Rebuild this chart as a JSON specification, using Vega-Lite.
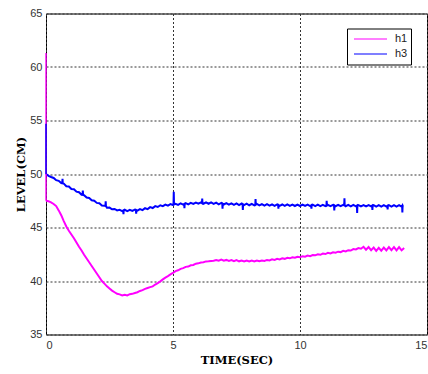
{
  "$schema": "https://vega.github.io/schema/vega-lite/v6.json",
  "width": 381,
  "height": 321,
  "autosize": {"type": "none"},
  "padding": {"left": 46, "top": 13.5, "right": 1, "bottom": 39.5},
  "background": "white",
  "config": {
    "view": {"stroke": "black", "strokeWidth": 1, "fill": "white"},
    "axis": {
      "grid": true,
      "gridColor": "#333",
      "gridDash": [2, 2],
      "gridOpacity": 1,
      "gridWidth": 1,
      "domain": false,
      "ticks": false,
      "labelFont": "Liberation Sans",
      "labelFontSize": 11,
      "labelColor": "#333",
      "titleFont": "DejaVu Serif",
      "titleFontWeight": "bold",
      "titleFontSize": 11.5,
      "titleColor": "black"
    }
  },
  "datasets": {
    "levels": [
      {"s":"h1","x":0,"y":47.5},{"s":"h1","x":0.1,"y":47.45},{"s":"h1","x":0.2,"y":47.35},{"s":"h1","x":0.3,"y":47.2},{"s":"h1","x":0.4,"y":47.0},{"s":"h1","x":0.5,"y":46.6},{"s":"h1","x":0.6,"y":46.15},{"s":"h1","x":0.7,"y":45.6},{"s":"h1","x":0.8,"y":45.1},{"s":"h1","x":0.9,"y":44.7},
      {"s":"h1","x":1.0,"y":44.35},{"s":"h1","x":1.1,"y":44.0},{"s":"h1","x":1.2,"y":43.6},{"s":"h1","x":1.3,"y":43.2},{"s":"h1","x":1.4,"y":42.85},{"s":"h1","x":1.5,"y":42.45},{"s":"h1","x":1.6,"y":42.1},{"s":"h1","x":1.7,"y":41.75},{"s":"h1","x":1.8,"y":41.4},{"s":"h1","x":1.9,"y":41.05},
      {"s":"h1","x":2.0,"y":40.7},{"s":"h1","x":2.1,"y":40.35},{"s":"h1","x":2.2,"y":40.0},{"s":"h1","x":2.3,"y":39.75},{"s":"h1","x":2.4,"y":39.5},{"s":"h1","x":2.5,"y":39.3},{"s":"h1","x":2.6,"y":39.1},{"s":"h1","x":2.7,"y":38.95},{"s":"h1","x":2.8,"y":38.8},{"s":"h1","x":2.9,"y":38.75},
      {"s":"h1","x":3.0,"y":38.65},{"s":"h1","x":3.1,"y":38.72},{"s":"h1","x":3.2,"y":38.65},{"s":"h1","x":3.3,"y":38.77},{"s":"h1","x":3.4,"y":38.8},{"s":"h1","x":3.5,"y":38.88},{"s":"h1","x":3.6,"y":38.95},{"s":"h1","x":3.7,"y":39.07},{"s":"h1","x":3.8,"y":39.15},{"s":"h1","x":3.9,"y":39.27},
      {"s":"h1","x":4.0,"y":39.35},{"s":"h1","x":4.1,"y":39.43},{"s":"h1","x":4.2,"y":39.5},{"s":"h1","x":4.3,"y":39.67},{"s":"h1","x":4.4,"y":39.8},{"s":"h1","x":4.5,"y":39.97},{"s":"h1","x":4.6,"y":40.15},{"s":"h1","x":4.7,"y":40.32},{"s":"h1","x":4.8,"y":40.45},{"s":"h1","x":4.9,"y":40.62},
      {"s":"h1","x":5.0,"y":40.75},{"s":"h1","x":5.1,"y":40.92},{"s":"h1","x":5.2,"y":41.0},{"s":"h1","x":5.3,"y":41.13},{"s":"h1","x":5.4,"y":41.2},{"s":"h1","x":5.5,"y":41.32},{"s":"h1","x":5.6,"y":41.35},{"s":"h1","x":5.7,"y":41.47},{"s":"h1","x":5.8,"y":41.5},{"s":"h1","x":5.9,"y":41.62},
      {"s":"h1","x":6.0,"y":41.65},{"s":"h1","x":6.1,"y":41.73},{"s":"h1","x":6.2,"y":41.75},{"s":"h1","x":6.3,"y":41.83},{"s":"h1","x":6.4,"y":41.85},{"s":"h1","x":6.5,"y":41.88},{"s":"h1","x":6.6,"y":41.9},{"s":"h1","x":6.7,"y":41.97},{"s":"h1","x":6.8,"y":41.9},{"s":"h1","x":6.9,"y":42.0},
      {"s":"h1","x":7.0,"y":41.9},{"s":"h1","x":7.1,"y":41.97},{"s":"h1","x":7.2,"y":41.88},{"s":"h1","x":7.3,"y":41.96},{"s":"h1","x":7.4,"y":41.85},{"s":"h1","x":7.5,"y":41.95},{"s":"h1","x":7.6,"y":41.84},{"s":"h1","x":7.7,"y":41.92},{"s":"h1","x":7.8,"y":41.83},{"s":"h1","x":7.9,"y":41.92},
      {"s":"h1","x":8.0,"y":41.83},{"s":"h1","x":8.1,"y":41.92},{"s":"h1","x":8.2,"y":41.83},{"s":"h1","x":8.3,"y":41.92},{"s":"h1","x":8.4,"y":41.84},{"s":"h1","x":8.5,"y":41.92},{"s":"h1","x":8.6,"y":41.87},{"s":"h1","x":8.7,"y":41.97},{"s":"h1","x":8.8,"y":41.92},{"s":"h1","x":8.9,"y":42.02},
      {"s":"h1","x":9.0,"y":41.97},{"s":"h1","x":9.1,"y":42.07},{"s":"h1","x":9.2,"y":42.02},{"s":"h1","x":9.3,"y":42.12},{"s":"h1","x":9.4,"y":42.07},{"s":"h1","x":9.5,"y":42.17},{"s":"h1","x":9.6,"y":42.12},{"s":"h1","x":9.7,"y":42.22},{"s":"h1","x":9.8,"y":42.17},{"s":"h1","x":9.9,"y":42.27},
      {"s":"h1","x":10.0,"y":42.22},{"s":"h1","x":10.1,"y":42.32},{"s":"h1","x":10.2,"y":42.27},{"s":"h1","x":10.3,"y":42.37},{"s":"h1","x":10.4,"y":42.32},{"s":"h1","x":10.5,"y":42.43},{"s":"h1","x":10.6,"y":42.4},{"s":"h1","x":10.7,"y":42.5},{"s":"h1","x":10.8,"y":42.45},{"s":"h1","x":10.9,"y":42.57},
      {"s":"h1","x":11.0,"y":42.52},{"s":"h1","x":11.1,"y":42.63},{"s":"h1","x":11.2,"y":42.57},{"s":"h1","x":11.3,"y":42.68},{"s":"h1","x":11.4,"y":42.65},{"s":"h1","x":11.5,"y":42.74},{"s":"h1","x":11.6,"y":42.7},{"s":"h1","x":11.7,"y":42.82},{"s":"h1","x":11.8,"y":42.76},{"s":"h1","x":11.9,"y":42.88},
      {"s":"h1","x":12.0,"y":42.85},{"s":"h1","x":12.1,"y":42.98},{"s":"h1","x":12.2,"y":42.95},{"s":"h1","x":12.3,"y":43.08},{"s":"h1","x":12.4,"y":43.02},{"s":"h1","x":12.5,"y":43.2},{"s":"h1","x":12.6,"y":42.92},{"s":"h1","x":12.7,"y":43.17},{"s":"h1","x":12.8,"y":42.88},{"s":"h1","x":12.9,"y":43.12},
      {"s":"h1","x":13.0,"y":42.82},{"s":"h1","x":13.1,"y":43.1},{"s":"h1","x":13.2,"y":42.84},{"s":"h1","x":13.3,"y":43.12},{"s":"h1","x":13.4,"y":42.86},{"s":"h1","x":13.5,"y":43.16},{"s":"h1","x":13.6,"y":42.88},{"s":"h1","x":13.7,"y":43.16},{"s":"h1","x":13.8,"y":42.86},{"s":"h1","x":13.9,"y":43.16},
      {"s":"h1","x":14.0,"y":42.86},{"s":"h1","x":14.1,"y":43.08},
      {"s":"h3","x":0,"y":50.0},{"s":"h3","x":0.1,"y":49.83},{"s":"h3","x":0.2,"y":49.72},{"s":"h3","x":0.3,"y":49.63},{"s":"h3","x":0.4,"y":49.42},{"s":"h3","x":0.5,"y":49.36},{"s":"h3","x":0.6,"y":49.15},{"s":"h3","x":0.64,"y":49.13},{"s":"h3","x":0.65,"y":49.55},{"s":"h3","x":0.66,"y":49.12},{"s":"h3","x":0.7,"y":49.1},{"s":"h3","x":0.8,"y":48.86},{"s":"h3","x":0.9,"y":48.83},
      {"s":"h3","x":1.0,"y":48.6},{"s":"h3","x":1.1,"y":48.58},{"s":"h3","x":1.2,"y":48.35},{"s":"h3","x":1.3,"y":48.3},{"s":"h3","x":1.4,"y":48.06},{"s":"h3","x":1.44,"y":48.05},{"s":"h3","x":1.45,"y":48.45},{"s":"h3","x":1.46,"y":48.04},{"s":"h3","x":1.5,"y":48.02},{"s":"h3","x":1.6,"y":47.8},{"s":"h3","x":1.7,"y":47.76},{"s":"h3","x":1.8,"y":47.55},{"s":"h3","x":1.9,"y":47.5},
      {"s":"h3","x":2.0,"y":47.3},{"s":"h3","x":2.1,"y":47.27},{"s":"h3","x":2.2,"y":47.05},{"s":"h3","x":2.3,"y":47.04},{"s":"h3","x":2.34,"y":47.0},{"s":"h3","x":2.35,"y":47.45},{"s":"h3","x":2.36,"y":47.0},{"s":"h3","x":2.4,"y":46.85},{"s":"h3","x":2.5,"y":46.86},{"s":"h3","x":2.6,"y":46.7},{"s":"h3","x":2.7,"y":46.73},{"s":"h3","x":2.8,"y":46.6},{"s":"h3","x":2.9,"y":46.66},
      {"s":"h3","x":3.0,"y":46.54},{"s":"h3","x":3.04,"y":46.6},{"s":"h3","x":3.05,"y":46.25},{"s":"h3","x":3.06,"y":46.6},{"s":"h3","x":3.1,"y":46.66},{"s":"h3","x":3.2,"y":46.54},{"s":"h3","x":3.3,"y":46.66},{"s":"h3","x":3.4,"y":46.55},{"s":"h3","x":3.5,"y":46.67},{"s":"h3","x":3.54,"y":46.62},{"s":"h3","x":3.55,"y":46.3},{"s":"h3","x":3.56,"y":46.62},{"s":"h3","x":3.6,"y":46.57},{"s":"h3","x":3.7,"y":46.72},{"s":"h3","x":3.8,"y":46.62},{"s":"h3","x":3.9,"y":46.8},
      {"s":"h3","x":4.0,"y":46.72},{"s":"h3","x":4.1,"y":46.9},{"s":"h3","x":4.2,"y":46.82},{"s":"h3","x":4.3,"y":47.0},{"s":"h3","x":4.4,"y":46.92},{"s":"h3","x":4.5,"y":47.08},{"s":"h3","x":4.6,"y":47.0},{"s":"h3","x":4.7,"y":47.14},{"s":"h3","x":4.8,"y":47.05},{"s":"h3","x":4.9,"y":47.19},
      {"s":"h3","x":5.0,"y":47.1},{"s":"h3","x":5.02,"y":47.15},{"s":"h3","x":5.03,"y":48.35},{"s":"h3","x":5.04,"y":47.15},{"s":"h3","x":5.1,"y":47.22},{"s":"h3","x":5.2,"y":47.12},{"s":"h3","x":5.3,"y":47.25},{"s":"h3","x":5.4,"y":47.14},{"s":"h3","x":5.44,"y":47.2},{"s":"h3","x":5.45,"y":46.8},{"s":"h3","x":5.46,"y":47.2},{"s":"h3","x":5.5,"y":47.27},{"s":"h3","x":5.6,"y":47.16},{"s":"h3","x":5.7,"y":47.3},{"s":"h3","x":5.8,"y":47.2},{"s":"h3","x":5.9,"y":47.33},
      {"s":"h3","x":6.0,"y":47.22},{"s":"h3","x":6.1,"y":47.35},{"s":"h3","x":6.14,"y":47.28},{"s":"h3","x":6.15,"y":47.7},{"s":"h3","x":6.16,"y":47.28},{"s":"h3","x":6.2,"y":47.22},{"s":"h3","x":6.3,"y":47.35},{"s":"h3","x":6.4,"y":47.22},{"s":"h3","x":6.5,"y":47.34},{"s":"h3","x":6.6,"y":47.2},{"s":"h3","x":6.7,"y":47.32},{"s":"h3","x":6.8,"y":47.17},{"s":"h3","x":6.9,"y":47.3},{"s":"h3","x":6.94,"y":47.22},{"s":"h3","x":6.95,"y":46.75},{"s":"h3","x":6.96,"y":47.22},
      {"s":"h3","x":7.0,"y":47.15},{"s":"h3","x":7.1,"y":47.28},{"s":"h3","x":7.2,"y":47.13},{"s":"h3","x":7.3,"y":47.26},{"s":"h3","x":7.4,"y":47.12},{"s":"h3","x":7.5,"y":47.25},{"s":"h3","x":7.6,"y":47.1},{"s":"h3","x":7.7,"y":47.24},{"s":"h3","x":7.74,"y":47.16},{"s":"h3","x":7.75,"y":46.65},{"s":"h3","x":7.76,"y":47.16},{"s":"h3","x":7.8,"y":47.09},{"s":"h3","x":7.9,"y":47.22},
      {"s":"h3","x":8.0,"y":47.08},{"s":"h3","x":8.1,"y":47.21},{"s":"h3","x":8.2,"y":47.07},{"s":"h3","x":8.24,"y":47.13},{"s":"h3","x":8.25,"y":47.65},{"s":"h3","x":8.26,"y":47.13},{"s":"h3","x":8.3,"y":47.2},{"s":"h3","x":8.4,"y":47.06},{"s":"h3","x":8.5,"y":47.19},{"s":"h3","x":8.6,"y":47.05},{"s":"h3","x":8.7,"y":47.18},{"s":"h3","x":8.8,"y":47.04},{"s":"h3","x":8.9,"y":47.17},
      {"s":"h3","x":9.0,"y":47.03},{"s":"h3","x":9.1,"y":47.16},{"s":"h3","x":9.14,"y":47.1},{"s":"h3","x":9.15,"y":46.75},{"s":"h3","x":9.16,"y":47.1},{"s":"h3","x":9.2,"y":47.03},{"s":"h3","x":9.3,"y":47.15},{"s":"h3","x":9.4,"y":47.02},{"s":"h3","x":9.5,"y":47.15},{"s":"h3","x":9.6,"y":47.02},{"s":"h3","x":9.7,"y":47.14},{"s":"h3","x":9.8,"y":47.01},{"s":"h3","x":9.9,"y":47.14},
      {"s":"h3","x":10.0,"y":47.01},{"s":"h3","x":10.1,"y":47.14},{"s":"h3","x":10.2,"y":47.01},{"s":"h3","x":10.3,"y":47.13},{"s":"h3","x":10.4,"y":47.0},{"s":"h3","x":10.44,"y":47.07},{"s":"h3","x":10.45,"y":46.75},{"s":"h3","x":10.46,"y":47.07},{"s":"h3","x":10.5,"y":47.13},{"s":"h3","x":10.6,"y":47.0},{"s":"h3","x":10.7,"y":47.13},{"s":"h3","x":10.8,"y":47.0},{"s":"h3","x":10.9,"y":47.12},
      {"s":"h3","x":11.0,"y":47.0},{"s":"h3","x":11.04,"y":47.06},{"s":"h3","x":11.05,"y":47.5},{"s":"h3","x":11.06,"y":47.06},{"s":"h3","x":11.1,"y":47.12},{"s":"h3","x":11.2,"y":46.99},{"s":"h3","x":11.3,"y":47.12},{"s":"h3","x":11.34,"y":47.06},{"s":"h3","x":11.35,"y":46.6},{"s":"h3","x":11.36,"y":47.06},{"s":"h3","x":11.4,"y":46.99},{"s":"h3","x":11.5,"y":47.12},{"s":"h3","x":11.6,"y":46.99},{"s":"h3","x":11.7,"y":47.11},{"s":"h3","x":11.74,"y":47.06},{"s":"h3","x":11.75,"y":47.72},{"s":"h3","x":11.76,"y":47.06},{"s":"h3","x":11.8,"y":46.99},{"s":"h3","x":11.9,"y":47.11},
      {"s":"h3","x":12.0,"y":46.98},{"s":"h3","x":12.1,"y":47.11},{"s":"h3","x":12.2,"y":46.98},{"s":"h3","x":12.24,"y":47.05},{"s":"h3","x":12.25,"y":46.35},{"s":"h3","x":12.26,"y":47.05},{"s":"h3","x":12.3,"y":47.1},{"s":"h3","x":12.4,"y":46.98},{"s":"h3","x":12.5,"y":47.1},{"s":"h3","x":12.6,"y":46.97},{"s":"h3","x":12.7,"y":47.1},{"s":"h3","x":12.8,"y":46.97},{"s":"h3","x":12.84,"y":47.04},{"s":"h3","x":12.85,"y":46.65},{"s":"h3","x":12.86,"y":47.04},{"s":"h3","x":12.9,"y":47.09},
      {"s":"h3","x":13.0,"y":46.96},{"s":"h3","x":13.1,"y":47.09},{"s":"h3","x":13.2,"y":46.96},{"s":"h3","x":13.3,"y":47.09},{"s":"h3","x":13.4,"y":46.96},{"s":"h3","x":13.44,"y":47.03},{"s":"h3","x":13.45,"y":46.7},{"s":"h3","x":13.46,"y":47.03},{"s":"h3","x":13.5,"y":47.08},{"s":"h3","x":13.6,"y":46.95},{"s":"h3","x":13.7,"y":47.08},{"s":"h3","x":13.8,"y":46.95},{"s":"h3","x":13.9,"y":47.08},
      {"s":"h3","x":14.0,"y":46.95},{"s":"h3","x":14.02,"y":47.02},{"s":"h3","x":14.03,"y":46.4},{"s":"h3","x":14.04,"y":47.02},{"s":"h3","x":14.08,"y":47.05}
    ],
    "spikes": [
      {"s":"h1","x":0,"y":47.5,"y2":61.3},
      {"s":"h3","x":0,"y":50.0,"y2":54.7}
    ]
  },
  "layer": [
    {
      "data": {"name": "levels"},
      "mark": {"type": "line", "strokeWidth": 2, "interpolate": "linear"},
      "encoding": {
        "x": {
          "field": "x", "type": "quantitative",
          "scale": {"domain": [0, 15], "nice": false, "zero": false},
          "axis": {"values": [0, 5, 10, 15], "title": "TIME(SEC)", "labelPadding": 5, "titlePadding": 4}
        },
        "y": {
          "field": "y", "type": "quantitative",
          "scale": {"domain": [35, 65], "nice": false, "zero": false},
          "axis": {"values": [35, 40, 45, 50, 55, 60, 65], "title": "LEVEL(CM)", "labelPadding": 4, "titlePadding": 3}
        },
        "color": {
          "field": "s", "type": "nominal",
          "scale": {"domain": ["h1", "h3"], "range": ["#ff00ff", "#0000ff"]},
          "legend": {
            "title": null,
            "orient": "none",
            "legendX": 301,
            "legendY": 15,
            "symbolType": "stroke",
            "symbolSize": 1089,
            "symbolStrokeWidth": 1.2,
            "symbolOffset": 3,
            "clipHeight": 15,
            "rowPadding": 0,
            "labelFont": "Liberation Sans",
            "labelFontSize": 11,
            "labelColor": "#222",
            "labelOffset": 7,
            "strokeColor": "black",
            "fillColor": "white",
            "padding": 3
          }
        }
      }
    },
    {
      "data": {"name": "spikes"},
      "mark": {"type": "rule", "strokeWidth": 1.4},
      "encoding": {
        "x": {"field": "x", "type": "quantitative"},
        "y": {"field": "y", "type": "quantitative"},
        "y2": {"field": "y2"},
        "color": {"field": "s", "type": "nominal", "legend": null}
      }
    },
    {
      "mark": {"type": "text", "text": "x 10", "align": "right", "baseline": "alphabetic", "dx": -7.5, "dy": 32, "font": "Liberation Sans", "fontSize": 10.5, "color": "#333"},
      "encoding": {"x": {"datum": 15}, "y": {"datum": 35}}
    },
    {
      "mark": {"type": "text", "text": "4", "align": "left", "baseline": "alphabetic", "dx": -7, "dy": 27.5, "font": "Liberation Sans", "fontSize": 7.5, "color": "#333"},
      "encoding": {"x": {"datum": 15}, "y": {"datum": 35}}
    }
  ]
}
